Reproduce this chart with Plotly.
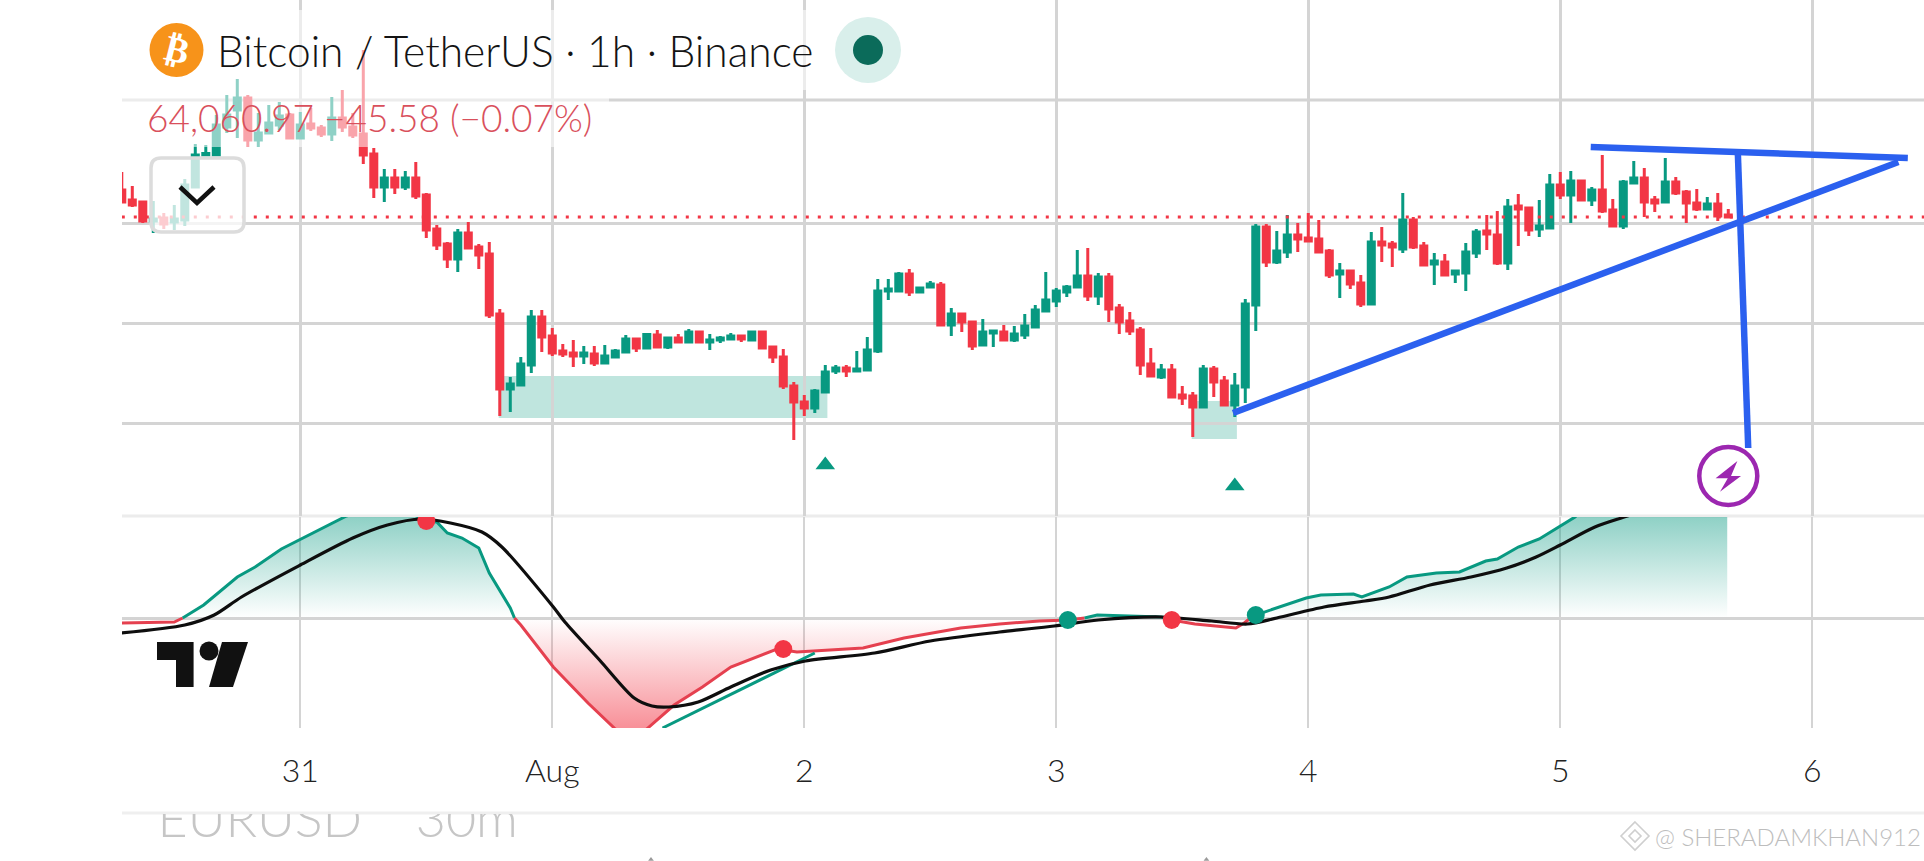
import plotly.graph_objects as go

# ---------------- data ----------------
hours = list(range(-41, 113))   # hours from 1 Aug 00:00
opens = [64330,64230,64210,64020,64050,64010,64030,64360,64680,64680,64960,65130,65250,64830,64900,64980,65080,64850,64990,64950,64890,65050,64960,64890,
64690,64360,64450,64360,64450,64280,63940,63790,63640,63900,63760,63690,63090,62340,62380,62580,63060,
62870,62720,62700,62670,62690,62600,62660,62710,62840,62750,62880,62760,62850,62810,62910,62810,62830,62840,62870,62830,62910,62760,62660,62370,62210,62150,62310,62520,62550,62520,62530,
62720,63320,63320,63490,63310,63360,63380,62980,63090,63010,62780,62900,62910,62830,62880,62960,63120,63220,63310,63360,63470,63270,63460,63150,63020,62930,62590,62460,62530,62280,62270,62160,62540,62420,62180,62360,
63180,63960,63610,63710,63880,63850,63840,63720,63490,63520,63400,63190,63810,63790,63740,64030,63770,63590,63610,63490,63500,63700,63920,63880,63600,64170,64150,63940,63950,64380,64280,64420,64230,64330,64130,63970,64400,64450,64230,64210,64410,64310,64200,64140,64190,64080]
highs = [64510,64370,64220,64220,64100,64180,64440,64790,64780,65080,65280,65440,65280,65100,65180,65210,65100,65110,65150,64980,65260,65330,65100,65730,
64750,64540,64540,64520,64610,64300,63980,63810,63940,64010,63790,63810,63140,62460,62660,63130,63130,
62950,62790,62830,62770,62770,62780,62740,62880,62850,62890,62930,62860,62890,62940,62920,62890,62870,62900,62870,62910,62910,62770,62740,62410,62280,62340,62580,62580,62580,62720,62860,
63440,63440,63510,63540,63360,63420,63410,63150,63090,63010,63040,62930,62980,62970,63090,63180,63510,63350,63380,63730,63750,63500,63500,63190,63110,62960,62750,62590,62590,62370,62310,62580,62570,62470,62500,63240,
63990,63990,63920,64080,64000,64100,64030,63740,63600,63530,63480,63910,63960,63820,64300,64060,63810,63700,63690,63520,63800,63940,64080,64120,64240,64290,64160,64230,64490,64510,64520,64420,64360,64680,64240,64430,64620,64550,64270,64650,64460,64330,64340,64260,64300,64140]
lows = [64200,64160,64000,63900,63940,63930,63970,64360,64680,64680,64900,64850,64760,64760,64900,64930,64850,64850,64920,64860,64820,64910,64850,64590,
64250,64210,64290,64330,64240,63850,63730,63550,63510,63750,63540,63050,62070,62110,62380,62500,62710,
62670,62660,62560,62590,62570,62600,62660,62710,62710,62740,62750,62740,62800,62800,62810,62730,62800,62840,62810,62830,62750,62600,62340,61830,62070,62100,62310,62490,62460,62510,62530,
62700,63230,63320,63270,63300,63360,62970,62870,62910,62730,62780,62760,62830,62810,62840,62950,63110,63160,63260,63350,63220,63180,63010,62890,62880,62480,62460,62440,62260,62180,61860,62150,62260,62170,62060,62200,
62920,63560,63590,63650,63710,63810,63710,63450,63250,63340,63160,63190,63610,63560,63700,63740,63570,63380,63470,63400,63320,63650,63730,63580,63530,63770,63870,63860,63950,64240,64000,64220,64170,64100,63970,63940,64400,64060,64110,64200,64280,64000,64120,64130,64020,64050]
closes = [64210,64180,64020,64040,63990,64040,64380,64680,64695,64980,65080,65250,64830,64900,65000,65070,64850,64980,64950,64890,65050,64960,64880,64680,
64360,64450,64360,64450,64270,63930,63780,63640,63900,63750,63680,63080,62340,62390,62590,63060,62860,
62700,62690,62670,62700,62600,62670,62720,62840,62750,62885,62760,62850,62810,62910,62810,62830,62850,62870,62840,62910,62750,62660,62370,62210,62150,62320,62510,62550,62520,62540,62730,
63320,63340,63490,63310,63350,63390,62980,63090,63010,62770,62910,62920,62830,62890,62970,63130,63230,63320,63360,63470,63270,63460,63140,63010,62920,62580,62470,62530,62260,62250,62160,62540,62410,62180,62370,63190,
63960,63610,63720,63880,63840,63820,63710,63480,63520,63390,63190,63810,63780,63760,64030,63760,63580,63620,63480,63520,63710,63910,63890,63600,64160,64140,63930,63970,64380,64280,64420,64230,64330,64120,63970,64410,64450,64210,64200,64410,64300,64200,64140,64190,64070,64060.97]

last_price = [64060.97, 64060.97]
zone_hours = [[-5.1, 26.2], [60.9, 65.2]]
zone_prices = [[62050, 62470], [61840, 62220]]
arrow_hours = [26, 65]
arrow_prices = [61580, 61370]
rise_hours, rise_prices = [64.83, 128.2], [62100, 64610]
roof_hours, roof_prices = [98.9, 129.1], [64760, 64650]
drop_hours, drop_prices = [112.9, 113.9], [64730, 61750]
flash_hour, flash_price = [112], [61470]

osc_hours = [-41,-36,-35.2,-33.2,-30,-28.3,-25.8,-22,-19.6,-16,-13.5,-12,-11,-10,-8.6,-7,-6,-4,-3.6,-3,0.1,3.4,5.9,7.5,9.1,11.6,14.3,17,21.4,23.3,29.6,33.5,38.9,42.6,46.4,49.1,50.7,51.9,58,58.4,59,61.2,65.1,65.9,66.5,67,71.8,73.2,76.3,77.1,79.7,81.4,84.2,86.4,88.9,90,92,94,97.4,99.8,103.6,111.9]
osc_vals = [-5,-4,0,13,41,51,69,89,102,115,105,97,96,85,80,70,45,10,0,-7,-49,-85,-110,-125,-110,-87,-69,-49,-31,-34,-30,-20,-10,-6,-3,-2,0,3,1,0,-2,-6,-10,-5,0,3,20,23,24,21,31,41,45,46,57,59,71,79,101,125,150,190]
sig_hours = [-41,-35,-32.2,-29.6,-24,-19,-15.7,-12.5,-9.7,-6.7,-4.8,0.1,1.2,4.5,7.8,9.5,11.1,13.9,17,20.8,24.1,30.7,36,42.6,47.8,52,58,62.8,66.2,69,73.5,77.4,79.7,83.6,87.5,90.9,93.7,96,99.3,102.4,109]
sig_vals = [-15,-7,3,21,53,80,93,99,95,86,71,11,-4,-42,-80,-88,-89,-84,-69,-52,-43,-35,-23,-14,-8,-2,1,-3,-6,0,11,17,21,33,41,50,61,73,91,102,125]
cross_up = ([49.1, 67], [-2, 3])
cross_down = ([-12, 22, 59], [97, -31, -2])
drawn_hours, drawn_vals = [10.5, 25], [-110, -35]

tick_hours = [-24, 0, 24, 48, 72, 96, 120]
tick_labels = ["31", "Aug", "2", "3", "4", "5", "6"]
price_ticks = [64000, 63000, 62000]
osc_ticks = [0]
caption_hours, caption_text = [-37.6, -13], ["EURUSD", "30m"]
caption_bits = [9.4, 62.3]

GREEN, RED, BLUE, PURPLE = "#089981", "#F23645", "#2b60ef", "#9c27b0"
GRID = "#d4d4d4"
W, H = 1924, 861
FONT = "Lato"

def X(px): return px / W
def Y(py): return 1 - py / H

fig = go.Figure()

# dotted last-price line
fig.add_trace(go.Scatter(x=[hours[0], 131], y=last_price, mode="lines", hoverinfo="skip",
                         line=dict(color=RED, width=3, dash="3px,9px")))

fig.add_trace(go.Candlestick(
    x=hours, open=opens, high=highs, low=lows, close=closes, hoverinfo="skip",
    increasing=dict(line=dict(color=GREEN, width=3), fillcolor=GREEN),
    decreasing=dict(line=dict(color=RED, width=3), fillcolor=RED),
    whiskerwidth=0))

fig.add_trace(go.Scatter(x=arrow_hours, y=arrow_prices, mode="markers",
                         marker=dict(symbol="triangle-up", size=17, color=GREEN)))
for hx, py in [(rise_hours, rise_prices), (roof_hours, roof_prices), (drop_hours, drop_prices)]:
    fig.add_trace(go.Scatter(x=hx, y=py, mode="lines", line=dict(color=BLUE, width=6.5)))
fig.add_trace(go.Scatter(x=flash_hour, y=flash_price, mode="markers",
                         marker=dict(symbol="circle-open", size=58, color=PURPLE, line=dict(width=4.5, color=PURPLE))))

# oscillator: split at the zero crossings
segs, cur = [], []
for h, v in zip(osc_hours, osc_vals):
    cur.append((h, v))
    if v == 0 and len(cur) > 1:
        segs.append(cur)
        cur = [(h, v)]
segs.append(cur)
for seg in segs:
    xs, ys = zip(*seg)
    up = sum(ys) > 0
    fig.add_trace(go.Scatter(
        x=xs, y=ys, xaxis="x2", yaxis="y2", mode="lines", fill="tozeroy",
        fillcolor="rgba(0,0,0,0)",
        fillgradient=dict(type="vertical", start=0, stop=100,
                          colorscale=[[0, "rgba(8,153,129,0)"], [1, "rgba(8,153,129,0.45)"]]) if up else
                     dict(type="vertical", start=-110, stop=0,
                          colorscale=[[0, "rgba(242,54,69,0.55)"], [1, "rgba(242,54,69,0)"]]),
        line=dict(color=GREEN if up else "#e5404f", width=3), hoverinfo="skip"))
fig.add_trace(go.Scatter(x=drawn_hours, y=drawn_vals, xaxis="x2", yaxis="y2", mode="lines",
                         line=dict(color=GREEN, width=3)))
fig.add_trace(go.Scatter(x=sig_hours, y=sig_vals, xaxis="x2", yaxis="y2", mode="lines",
                         line=dict(color="#0e0e0e", width=3.2, shape="spline", smoothing=0.8)))
fig.add_trace(go.Scatter(x=cross_up[0], y=cross_up[1], xaxis="x2", yaxis="y2", mode="markers",
                         marker=dict(size=18, color=GREEN)))
fig.add_trace(go.Scatter(x=cross_down[0], y=cross_down[1], xaxis="x2", yaxis="y2", mode="markers",
                         marker=dict(size=18, color=RED)))

# clipped caption at the very bottom
fig.add_trace(go.Scatter(x=caption_hours, y=[13.5, 13.5], xaxis="x3", yaxis="y3", mode="text",
                         text=caption_text, textposition="middle right",
                         textfont=dict(family=FONT, size=52, color="#c6c6c6", weight=300)))
fig.add_trace(go.Scatter(x=caption_bits, y=[-22.5, -22.5], xaxis="x3", yaxis="y3", mode="markers",
                         marker=dict(symbol="triangle-up", size=5, color="#9a9a9a")))

shapes = []
for hx, py in zip(zone_hours, zone_prices):
    shapes.append(dict(type="rect", xref="x", yref="y", x0=hx[0], x1=hx[1], y0=py[0], y1=py[1],
                       fillcolor="rgba(8,153,129,0.26)", line_width=0, layer="below"))
def hline(py, x0, x1, c):
    shapes.append(dict(type="line", xref="paper", yref="paper", x0=X(x0), x1=X(x1), y0=Y(py), y1=Y(py),
                       line=dict(color=c, width=3), layer="below"))
hline(100, 122, W, GRID)
hline(516, 122, W, "#ececec")
hline(813, 122, W, "#efefef")

def rect(x0, y0, x1, y1, fill):
    shapes.append(dict(type="rect", xref="paper", yref="paper", x0=X(x0), x1=X(x1), y0=Y(y0), y1=Y(y1),
                       fillcolor=fill, line_width=0, layer="above"))
rect(122, 10, 905, 90, "rgba(255,255,255,0.55)")
rect(122, 90, 609, 147, "rgba(255,255,255,0.55)")

def path(points, fill=None, line=None, width=0, close=True):
    d = "M " + " L ".join(f"{X(a):.5f},{Y(b):.5f}" for a, b in points) + (" Z" if close else "")
    shapes.append(dict(type="path", xref="paper", yref="paper", path=d, layer="above",
                       fillcolor=fill or "rgba(0,0,0,0)",
                       line=dict(color=line or "rgba(0,0,0,0)", width=width)))
def oval(cx, cy, r, fill, line=None, width=0):
    shapes.append(dict(type="circle", xref="paper", yref="paper", x0=X(cx - r), x1=X(cx + r),
                       y0=Y(cy + r), y1=Y(cy - r), fillcolor=fill, layer="above",
                       line=dict(color=line or "rgba(0,0,0,0)", width=width)))

# collapse button
r = 10
bx0, by0, bx1, by1 = 151, 158, 244, 232
d = (f"M {X(bx0+r)},{Y(by0)} L {X(bx1-r)},{Y(by0)} Q {X(bx1)},{Y(by0)} {X(bx1)},{Y(by0+r)} "
     f"L {X(bx1)},{Y(by1-r)} Q {X(bx1)},{Y(by1)} {X(bx1-r)},{Y(by1)} L {X(bx0+r)},{Y(by1)} "
     f"Q {X(bx0)},{Y(by1)} {X(bx0)},{Y(by1-r)} L {X(bx0)},{Y(by0+r)} Q {X(bx0)},{Y(by0)} {X(bx0+r)},{Y(by0)} Z")
shapes.append(dict(type="path", xref="paper", yref="paper", path=d, layer="above",
                   fillcolor="rgba(255,255,255,0.75)", line=dict(color="#dcdcdc", width=3.5)))
path([(180, 187), (197, 203), (214, 187)], line="#111111", width=4.5, close=False)

# header icons
oval(176.5, 50, 27, "#f7931a")
oval(868, 50, 33, "#d9efeb")
oval(868, 50, 15, "#0b6b5a")

# flash bolt
path([(1737.4, 461), (1715.6, 478.3), (1727.8, 478.3), (1720, 491.7), (1741, 476), (1731, 476)], fill=PURPLE)

# logo
path([(157, 642), (193.6, 642), (193.6, 687), (176, 687), (176, 660), (157, 660)], fill="#111111")
oval(209, 651, 9.5, "#111111")
path([(222, 642), (248, 642), (233, 687), (209, 687)], fill="#111111")

# watermark diamond
path([(1635, 822), (1649, 836), (1635, 850), (1621, 836)], line="#cfcfcf", width=1.6)
path([(1635, 830), (1641, 836), (1635, 842), (1629, 836)], line="#cfcfcf", width=1.6)

annos = [
    dict(x=X(216), y=Y(51), text="Bitcoin / TetherUS · 1h · Binance", xanchor="left", yanchor="middle",
         font=dict(family=FONT, size=42.5, color="#141414", weight=300)),
    dict(x=X(146), y=Y(118), text="64,060.97 −45.58 (−0.07%)", xanchor="left", yanchor="middle",
         font=dict(family=FONT, size=37, color="#d9505c", weight=300)),
    dict(x=X(177), y=Y(50), text="₿", xanchor="center", yanchor="middle", textangle=14,
         font=dict(family="DejaVu Sans", size=36, color="#ffffff", weight=700)),
    dict(x=X(1654), y=Y(836), text="@ SHERADAMKHAN912", xanchor="left", yanchor="middle",
         font=dict(family=FONT, size=24, color="#bdbdbd", weight=300)),
]
for a in annos:
    a.update(xref="paper", yref="paper", showarrow=False, borderpad=0)

fig.update_layout(
    width=W, height=H, margin=dict(l=0, r=0, t=0, b=0), autosize=False,
    paper_bgcolor="#ffffff", plot_bgcolor="#ffffff", showlegend=False,
    boxgap=0.18, shapes=shapes, annotations=annos, hovermode=False,
    xaxis=dict(domain=[122 / W, 1], range=[-40.98, 130.64], anchor="y", tickvals=tick_hours,
               showticklabels=False, showgrid=True, gridcolor=GRID, gridwidth=3, zeroline=False,
               rangeslider=dict(visible=False), ticks=""),
    yaxis=dict(domain=[1 - 516 / H, 1], range=[61070, 66230], tickvals=price_ticks, side="right",
               showticklabels=False, showgrid=True, gridcolor=GRID, gridwidth=3, zeroline=False, anchor="x"),
    xaxis2=dict(domain=[122 / W, 1], matches="x", anchor="y2", tickvals=tick_hours, ticktext=tick_labels,
                showgrid=True, gridcolor=GRID, gridwidth=2.4, zeroline=False, ticks="outside", ticklen=15,
                tickcolor="#ffffff", tickfont=dict(family=FONT, size=32, color="#222222", weight=300)),
    yaxis2=dict(domain=[1 - 728 / H, 1 - 517 / H], range=[-110, 101], tickvals=osc_ticks, showticklabels=False,
                showgrid=True, gridcolor=GRID, gridwidth=3, zeroline=False, anchor="x2"),
    xaxis3=dict(domain=[122 / W, 1], matches="x", anchor="y3", showgrid=False, zeroline=False,
                showticklabels=False, ticks=""),
    yaxis3=dict(domain=[0, 1 - 814 / H], range=[-24, 24], showgrid=False, zeroline=False,
                showticklabels=False, anchor="x3"),
)

fig.write_html("out.html", config=dict(displayModeBar=False),
               post_script="document.body.style.margin='0';document.body.style.overflow='hidden';")
